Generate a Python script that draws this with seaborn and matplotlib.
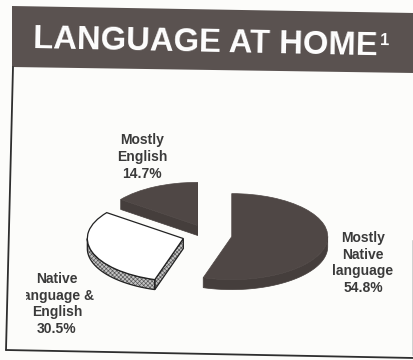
import numpy as np
import matplotlib
matplotlib.use("Agg")
import matplotlib.pyplot as plt
from matplotlib.patches import Polygon, Rectangle
import seaborn as sns

# ---- data ----
categories = ["Mostly Native language", "Native language & English", "Mostly English"]
shares = [54.8, 30.5, 14.7]
label_texts = ["Mostly\nNative\nlanguage\n54.8%",
               "Native\nlanguage &\nEnglish\n30.5%",
               "Mostly\nEnglish\n14.7%"]
title = "LANGUAGE AT HOME"
footnote_mark = "1"
explode = [0.25, 0.27, 0.25]

sns.set_theme(style="white")
plt.rcParams['font.family'] = ['Liberation Sans', 'DejaVu Sans']
plt.rcParams['hatch.linewidth'] = 0.45

W, H = 414, 360
fig = plt.figure(figsize=(W / 100, H / 100), dpi=100)
fig.patch.set_facecolor('#fcfcfa')

# background / decoration axes in pixel coordinates
bg = fig.add_axes([0, 0, 1, 1])
bg.set_xlim(0, W)
bg.set_ylim(H, 0)
bg.axis('off')

bg.add_patch(Polygon([(12, 6), (414, 13), (414, 73), (12, 67)], closed=True,
                     fc='#5a5250', ec='none', zorder=1))
bg.plot([13, 6], [67, 350], color='#2e2e2e', lw=1.3, zorder=2)
bg.plot([6, 414], [350, 358], color='#2e2e2e', lw=1.3, zorder=2)
bg.plot([412, 412], [240, 355], color='#d0d0d0', lw=0.7, zorder=2)

t_title = bg.text(33, 48, title, rotation=-1.2, rotation_mode='anchor', ha='left',
                  va='baseline', color='white', fontsize=23.6, fontweight='bold',
                  zorder=3)
fig.canvas.draw()
bb = t_title.get_window_extent(fig.canvas.get_renderer())
x_end = bg.transData.inverted().transform((bb.x1, bb.y1))[0]
bg.text(x_end + 2, 45, footnote_mark, rotation=-1.2, rotation_mode='anchor',
        ha='left', va='baseline', color='white', fontsize=12, fontweight='bold',
        zorder=3)

# ---- pie axes ----
cx, cy = 208, 235      # pixel centre of the pie
rx, ry = 96, 43        # pixel radii of the tilted ellipse
thick = 10 / ry        # wall thickness in data units

pax = fig.add_axes([0, 0, 1, 1])
pax.patch.set_alpha(0)
dark = '#4f4745'
wall_dark = '#453e3c'
colors = [dark, 'white', dark]
wedges, _ = pax.pie(shares, explode=explode, startangle=90, counterclock=False,
                    colors=colors, radius=1.0)
pax.set_aspect('auto')
pax.set_xlim(-cx / rx, (W - cx) / rx)
pax.set_ylim((cy - H) / ry, cy / ry)
pax.axis('off')


def add_wall(poly, is_white):
    if is_white:
        pax.add_patch(Polygon(poly, closed=True, fc='#c4c4c4', ec='#555555',
                              lw=0, hatch='xxxxxxxx', zorder=1))
        pax.add_patch(Polygon(poly, closed=True, fill=False, ec='#222222',
                              lw=0.9, zorder=1.5))
    else:
        pax.add_patch(Polygon(poly, closed=True, fc=wall_dark, ec=wall_dark,
                              lw=0.5, zorder=1))


for w, col in zip(wedges, colors):
    is_white = col == 'white'
    c = np.array(w.center)
    r = w.r
    t1, t2 = w.theta1, w.theta2
    # cut faces that face the viewer
    for t, visible in ((t2, np.cos(np.radians(t2)) < 0),
                       (t1, np.cos(np.radians(t1)) > 0)):
        if visible:
            u = np.array([np.cos(np.radians(t)), np.sin(np.radians(t))])
            p = c + r * u
            d = np.array([0, thick])
            add_wall([c, p, p - d, c - d], is_white)
    # front rim
    for k in (-1, 0, 1):
        a = max(t1, -180 + 360 * k)
        b = min(t2, 0 + 360 * k)
        if b > a:
            th = np.radians(np.linspace(a, b, 80))
            top = np.column_stack([c[0] + r * np.cos(th), c[1] + r * np.sin(th)])
            bot = top - np.array([0, thick])
            add_wall(np.vstack([top, bot[::-1]]), is_white)
    w.set_zorder(2)
    if is_white:
        w.set_edgecolor('#222222')
        w.set_linewidth(0.9)
    else:
        w.set_edgecolor(dark)
        w.set_linewidth(0.5)

# ---- labels ----
lab_kw = dict(ha='center', va='center', fontsize=10, fontweight='bold',
              color='#3a3a3a', linespacing=1.25, zorder=3)
bg.text(363, 263, label_texts[0], **lab_kw)
t_mix = bg.text(57, 304, label_texts[1], **lab_kw)
t_mix.set_clip_path(Rectangle((26, 0), 400, 360, transform=bg.transData))
t_mix.set_clip_on(True)
bg.text(142, 157, label_texts[2], **lab_kw)

fig.savefig('out.png', dpi=100, facecolor=fig.get_facecolor())
